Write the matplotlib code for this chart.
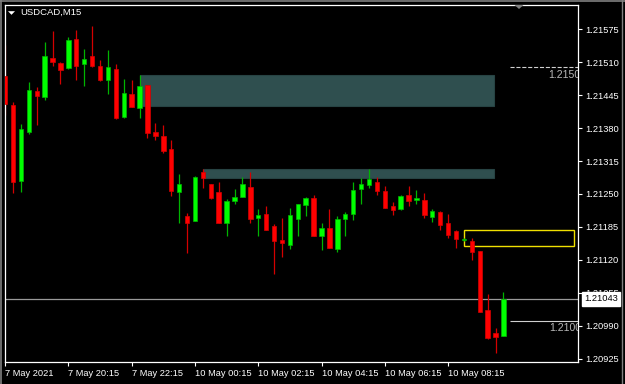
import matplotlib.pyplot as plt
import numpy as np
from matplotlib.lines import Line2D
from matplotlib.patches import Polygon, Rectangle

plt.rcParams["font.family"] = ["Liberation Sans", "DejaVu Sans"]

# USDCAD M15, 64 bars from 7 May 18:15 to 10 May 10:00
opens = [1.21483, 1.21426, 1.21276, 1.21373, 1.21453, 1.21441, 1.21519, 1.21509,
         1.21499, 1.21555, 1.21507, 1.21522, 1.21503, 1.21475, 1.21497, 1.21401,
         1.21447, 1.21419, 1.21465, 1.21372, 1.21365, 1.21339, 1.21254, 1.21207,
         1.21197, 1.21294, 1.21269, 1.21253, 1.21192, 1.21236, 1.21245, 1.21264,
         1.21203, 1.21211, 1.21187, 1.21160, 1.21149, 1.21201, 1.21228, 1.21243,
         1.21168, 1.21183, 1.21142, 1.21201, 1.21211, 1.21259, 1.21268, 1.21274,
         1.21255, 1.21226, 1.21220, 1.21248, 1.21238, 1.21238, 1.21205, 1.21214,
         1.21193, 1.21177, 1.21160, 1.21157, 1.21137, 1.21021, 1.20976, 1.20970]
highs = [1.21544, 1.21431, 1.21388, 1.21471, 1.21461, 1.21549, 1.21572, 1.21511,
         1.21559, 1.21574, 1.21536, 1.21582, 1.21514, 1.21534, 1.21507, 1.21477,
         1.21475, 1.21485, 1.21465, 1.21390, 1.21386, 1.21357, 1.21290, 1.21212,
         1.21285, 1.21299, 1.21270, 1.21274, 1.21240, 1.21259, 1.21283, 1.21294,
         1.21220, 1.21226, 1.21190, 1.21203, 1.21222, 1.21231, 1.21244, 1.21248,
         1.21193, 1.21220, 1.21207, 1.21215, 1.21274, 1.21281, 1.21299, 1.21284,
         1.21266, 1.21234, 1.21248, 1.21265, 1.21258, 1.21251, 1.21220, 1.21216,
         1.21210, 1.21179, 1.21164, 1.21164, 1.21137, 1.21053, 1.20986, 1.21057]
lows = [1.21406, 1.21251, 1.21253, 1.21368, 1.21386, 1.21435, 1.21503, 1.21467,
        1.21497, 1.21474, 1.21464, 1.21501, 1.21472, 1.21447, 1.21398, 1.21399,
        1.21421, 1.21399, 1.21361, 1.21357, 1.21331, 1.21247, 1.21192, 1.21133,
        1.21196, 1.21261, 1.21241, 1.21192, 1.21168, 1.21230, 1.21244, 1.21193,
        1.21168, 1.21178, 1.21092, 1.21126, 1.21142, 1.21168, 1.21207, 1.21167,
        1.21140, 1.21143, 1.21136, 1.21167, 1.21199, 1.21230, 1.21261, 1.21249,
        1.21222, 1.21209, 1.21219, 1.21227, 1.21231, 1.21203, 1.21195, 1.21179,
        1.21164, 1.21144, 1.21158, 1.21120, 1.21018, 1.20964, 1.20936, 1.20969]
closes = [1.21427, 1.21274, 1.21378, 1.21455, 1.21443, 1.21522, 1.21511, 1.21495,
          1.21554, 1.21503, 1.21516, 1.21503, 1.21474, 1.21501, 1.21399, 1.21449,
          1.21422, 1.21463, 1.21370, 1.21365, 1.21335, 1.21255, 1.21269, 1.21193,
          1.21284, 1.21281, 1.21242, 1.21193, 1.21236, 1.21245, 1.21269, 1.21201,
          1.21209, 1.21179, 1.21158, 1.21154, 1.21209, 1.21230, 1.21242, 1.21168,
          1.21183, 1.21144, 1.21201, 1.21211, 1.21258, 1.21269, 1.21279, 1.21256,
          1.21223, 1.21218, 1.21246, 1.21237, 1.21242, 1.21209, 1.21216, 1.21189,
          1.21169, 1.21162, 1.21161, 1.21135, 1.21018, 1.20966, 1.20968, 1.21043]

time_tick_bars = [0, 8, 16, 24, 32, 40, 48, 56]
time_tick_labels = ["7 May 2021", "7 May 20:15", "7 May 22:15", "10 May 00:15",
                    "10 May 02:15", "10 May 04:15", "10 May 06:15", "10 May 08:15"]
price_ticks = [1.21575, 1.21510, 1.21445, 1.21380, 1.21315, 1.21250,
               1.21185, 1.21120, 1.21055, 1.20990, 1.20925]

# zones: (first bar, last bar, low, high)
supply_zones = [(17, 61.75, 1.21424, 1.21485), (25, 61.75, 1.21282, 1.21299)]
box_zone = (58, 71.9, 1.21148, 1.21178)
level_prices = [1.2150, 1.2100]
bid_price = 1.21043

UP, UP_WICK = "#00FF00", "#00B400"
DN, DN_WICK = "#FF0000", "#D40000"
TEAL = "#2F4F4F"
FG = "white"

W, H = 625, 384
fig = plt.figure(figsize=(W / 100, H / 100), dpi=100, facecolor="black")
ax = fig.add_axes([5 / W, 22 / H, 573 / W, 357.5 / H], facecolor="black")

o = np.array(opens)
h = np.array(highs)
l = np.array(lows)
c = np.array(closes)
x = np.arange(len(o))
up = c >= o

for (b0, b1, lo, hi) in supply_zones:
    ax.add_patch(Rectangle((b0, lo), b1 - b0, hi - lo, facecolor=TEAL,
                           edgecolor="#274343", lw=0.8, zorder=1))
b0, b1, lo, hi = box_zone
ax.add_patch(Rectangle((b0, lo), b1 - b0, hi - lo, facecolor="none",
                       edgecolor="#F0E000", lw=1.0, zorder=1))

ax.axhline(bid_price, color="#9A9A9A", lw=0.9, zorder=1.5)

ax.vlines(x[up], l[up], h[up], color=UP_WICK, lw=0.9, zorder=2)
ax.vlines(x[~up], l[~up], h[~up], color=DN_WICK, lw=0.9, zorder=2)
body = np.maximum(np.abs(c - o), 0.000012)
ax.bar(x[up], body[up], bottom=np.minimum(o, c)[up], width=0.56,
       color=UP, edgecolor=UP_WICK, lw=0.5, zorder=3)
ax.bar(x[~up], body[~up], bottom=np.minimum(o, c)[~up], width=0.56,
       color=DN, edgecolor=DN_WICK, lw=0.5, zorder=3)

ax.set_xlim(-0.01, 72.42)
ax.set_ylim(1.209185, 1.216239)

# horizontal price levels on the right
styles = ["--", "-"]
for lvl, ls in zip(level_prices, styles):
    ax.hlines(lvl, 63.8, 72.42, color="#D0D0D0", lw=0.8, linestyles=ls, zorder=2)
    ax.annotate(f"{lvl:.4f}", xy=(1.0, lvl), xycoords=("axes fraction", "data"),
                xytext=(2, -2), textcoords="offset points", ha="right", va="top",
                fontsize=7.6, color="#B8B8B8", annotation_clip=False, clip_on=True)

for s in ax.spines.values():
    s.set_color(FG)
    s.set_linewidth(0.9)

ax.yaxis.tick_right()
ax.set_yticks(price_ticks, [f"{p:.5f}" for p in price_ticks])
ax.set_xticks(time_tick_bars, time_tick_labels)
for lbl in ax.get_xticklabels():
    lbl.set_ha("left")
ax.tick_params(axis="both", colors=FG, labelcolor=FG, labelsize=6.7,
               length=3, width=0.8, direction="out")
ax.tick_params(axis="y", pad=2)
ax.tick_params(axis="x", pad=2)

ax.annotate(f"{bid_price:.5f}", xy=(1.0, bid_price), xycoords=("axes fraction", "data"),
            xytext=(4.3, 0), textcoords="offset points", ha="left", va="center",
            fontsize=6.7, color="black", annotation_clip=False, zorder=10,
            bbox=dict(boxstyle="square,pad=0.25", facecolor="white", edgecolor="white"))

# symbol label and markers
fig.text(20 / W, 1 - 12 / H, "USDCAD,M15", color=FG, fontsize=6.8, ha="left", va="center")
fig.add_artist(Polygon([(8 / W, 1 - 11.2 / H), (15 / W, 1 - 11.2 / H), (11.5 / W, 1 - 14.8 / H)],
                       closed=True, facecolor=FG, edgecolor="none", transform=fig.transFigure))
fig.add_artist(Polygon([(514.5 / W, 1 - 5 / H), (523.5 / W, 1 - 5 / H), (519 / W, 1 - 9 / H)],
                       closed=True, facecolor="#808080", edgecolor="none", transform=fig.transFigure))

# window frame
fig.add_artist(Line2D([1 / W, 1 / W], [0, 1], color="#808080", lw=1.2, transform=fig.transFigure))
fig.add_artist(Line2D([0, 1], [1 - 0.8 / H, 1 - 0.8 / H], color="#808080", lw=1.2, transform=fig.transFigure))
fig.add_artist(Line2D([621.7 / W, 621.7 / W], [0, 1], color="#808080", lw=1.0, transform=fig.transFigure))

fig.savefig("out.png", dpi=100, facecolor="black")
